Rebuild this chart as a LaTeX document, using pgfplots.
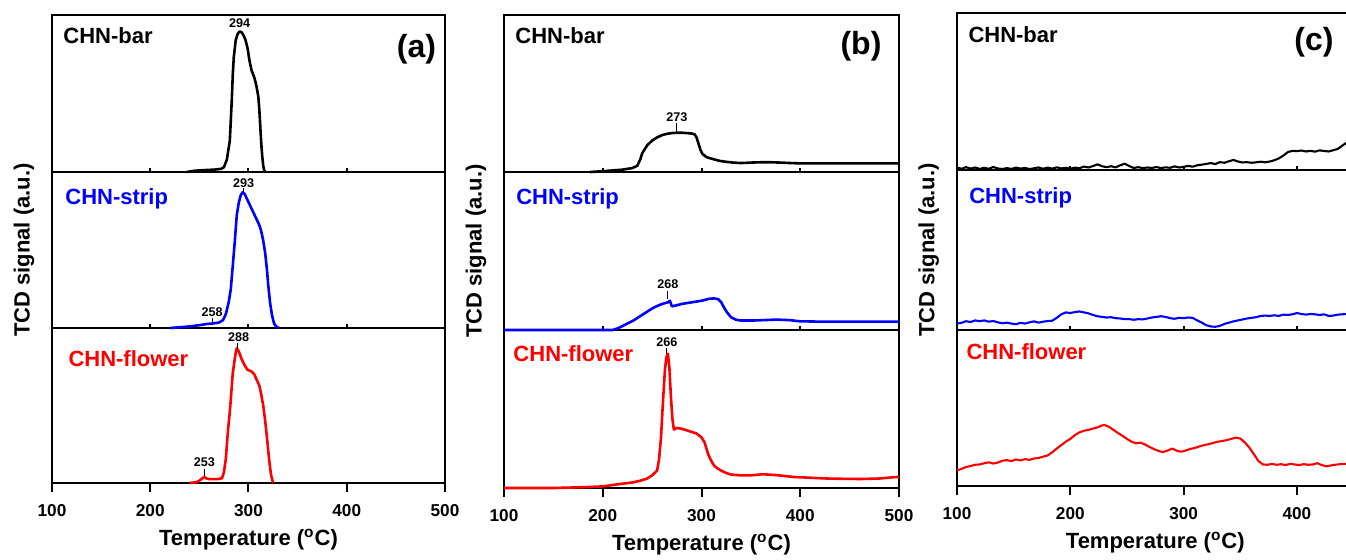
\documentclass[border=0pt]{standalone}
\usepackage{pgfplots}
\pgfplotsset{compat=1.18}
\usepackage{fontspec}
\setmainfont{Liberation Sans}
\definecolor{cblue}{RGB}{0,0,255}
\definecolor{cred}{RGB}{255,0,0}
\newcommand{\serfont}{\bfseries\fontsize{11}{13}\selectfont}
\newcommand{\pkfont}{\bfseries\fontsize{6.3}{7.5}\selectfont}
\pgfplotsset{
  base/.style={scale only axis, anchor=south west, ymin=0, ymax=100, xmin=100,
    ytick=\empty, xtick={100,200,300,400,500}, xtick pos=left, clip=false,
    axis line style={line width=1.15pt}, every tick/.style={black, line width=1pt},
    /pgf/number format/assume math mode=true,
    tick label style={font=\bfseries\fontsize{8.6}{10}\selectfont},
    every axis plot/.append style={line width=1.3pt, line join=round}},
  upper/.style={xticklabels={}, tick align=inside, major tick length=2pt},
  lower/.style={tick align=outside, major tick length=4.5pt,
    xlabel={Temperature (\textsuperscript{o}C)},
    xlabel style={font=\bfseries\fontsize{11}{13}\selectfont, at={(axis description cs:0.5,0)}, anchor=center, yshift=-28.5pt},
    xticklabel style={anchor=center, yshift=-9.25pt}},
  ylab/.style={ylabel={TCD signal (a.u.)},
    ylabel style={font=\bfseries\fontsize{11}{13}\selectfont, at={(axis description cs:-0.071,0.5)}, anchor=center}},
}
\begin{document}
\begin{tikzpicture}
\path[use as bounding box] (0,0) rectangle (673pt,279.5pt);

% ================= Panel (a) =================
\begin{axis}[base, lower, at={(26pt,38pt)}, width=196.5pt, height=77.5pt, xmax=500]
\addplot[cred] coordinates {(240,0) (247,0.5) (250,1.5) (253,3) (255,4) (257,3) (260,2.5) (268,2.5) (273,3) (275,7) (277,16) (279,33) (281,46) (282,54) (284,71) (286,80) (287,84) (288,87) (290,85) (293,80) (296,76) (299,73) (303,72) (306,70) (308,67) (311,63) (313,57) (315,50) (317,40) (319,28) (321,15) (323,5) (325,0)};
\node[anchor=base west, inner sep=0pt, text=cred, font=\serfont] at (rel axis cs:0.041,0.752) {CHN-flower};
\node[font=\pkfont] at (axis cs:290,94) {288};
\draw[line width=0.5pt] (axis cs:289,86.5) -- (axis cs:289,90.5);
\node[font=\pkfont] at (axis cs:255,13.5) {253};
\draw[line width=0.5pt] (axis cs:255,4.5) -- (axis cs:255,9);
\end{axis}
\begin{axis}[base, upper, ylab, at={(26pt,115.5pt)}, width=196.5pt, height=78pt, xmax=500]
\addplot[cblue] coordinates {(220,0) (230,0.5) (240,1) (250,1.8) (258,2.6) (265,3) (270,3.5) (274,5) (277,9) (280,17) (282,25) (284,40) (286,55) (288,72) (290,80) (292,85) (294,87) (296,86) (299,82) (302,78) (305,74) (308,70) (311,66) (313,62) (315,56) (317,48) (319,36) (320,28) (322,16) (324,8) (326,3) (328,1) (331,0)};
\node[anchor=base west, inner sep=0pt, text=cblue, font=\serfont] at (rel axis cs:0.033,0.792) {CHN-strip};
\node[font=\pkfont] at (axis cs:295,93) {293};
\draw[line width=0.5pt] (axis cs:295,87.5) -- (axis cs:295,90);
\node[font=\pkfont] at (axis cs:263,10) {258};
\draw[line width=0.5pt] (axis cs:263,3) -- (axis cs:263,6.5);
\end{axis}
\begin{axis}[base, upper, at={(26pt,193.5pt)}, width=196.5pt, height=78.5pt, xmax=500]
\addplot[black] coordinates {(237,0) (245,0.8) (255,1.2) (265,1.5) (272,2) (275,3) (278,8) (281,20) (283,46) (284,62) (285,73) (287,84) (289,88) (291,89.5) (293,89) (295,87) (297,84) (299,79) (301,71) (303,65) (306,60) (308,55) (310,48) (311,40) (312,29) (313,18) (314,10) (315,4) (316,1) (317,0)};
\node[anchor=base west, inner sep=0pt, font=\serfont] at (rel axis cs:0.028,0.818) {CHN-bar};
\node[font=\pkfont] at (axis cs:291,95) {294};
\node[font=\bfseries\fontsize{16}{18}\selectfont] at (axis cs:471,78) {(a)};
\end{axis}

% ================= Panel (b) =================
\begin{axis}[base, lower, at={(252pt,35.5pt)}, width=197.5pt, height=79pt, xmax=500]
\addplot[cred] coordinates {(100,0) (150,0) (180,0.5) (200,1) (217,2.5) (230,3.5) (238,4.6) (245,6) (250,8) (255,11) (257,18) (259,32) (261,55) (263,75) (264.5,83) (266,85) (267.5,76) (269,58) (270.5,44) (272,37) (275,38) (280,37.5) (285,36.5) (290,35.5) (295,34.5) (300,32) (303,29) (305,25) (307,21) (310,17) (313,14) (316,12.5) (320,11) (325,9.5) (330,8.5) (340,8) (350,8) (362,8.7) (375,8.2) (393,7) (410,6.5) (427,6) (445,5.8) (461,5.7) (480,6) (494,6.8) (500,7)};
\node[anchor=base west, inner sep=0pt, text=cred, font=\serfont] at (rel axis cs:0.023,0.80) {CHN-flower};
\node[font=\pkfont] at (axis cs:265,92) {266};
\draw[line width=0.5pt] (axis cs:265,85) -- (axis cs:265,88.6);
\end{axis}
\begin{axis}[base, upper, ylab, at={(252pt,114.5pt)}, width=197.5pt, height=79pt, xmax=500]
\addplot[cblue] coordinates {(100,0) (150,0) (200,0) (210,0) (215,1) (220,2.5) (231,6) (241,10) (251,14) (258,16) (263,17) (266,17.5) (268,18.5) (270,15) (274,15.5) (280,16.5) (290,17.5) (300,18.5) (308,19.8) (313,20) (317,19.5) (320,17.5) (323,14) (326,11) (330,8) (335,6.5) (340,6) (352,6) (365,6.3) (376,6.6) (390,6.2) (400,5.5) (420,5.3) (450,5.3) (480,5.3) (500,5.3)};
\node[anchor=base west, inner sep=0pt, text=cblue, font=\serfont] at (rel axis cs:0.030,0.792) {CHN-strip};
\node[font=\pkfont] at (axis cs:266,29) {268};
\draw[line width=0.5pt] (axis cs:266,19.5) -- (axis cs:266,25);
\end{axis}
\begin{axis}[base, upper, at={(252pt,193.5pt)}, width=197.5pt, height=78.5pt, xmax=500]
\addplot[black] coordinates {(187,0) (200,0.5) (210,1) (220,1.5) (230,2.5) (235,4) (238,8) (240,12) (245,17) (250,20) (255,22) (260,23.5) (265,24.3) (270,24.8) (275,25) (280,25) (285,24.8) (290,24.5) (293,24) (295,22) (297,18) (299,14) (301,11.5) (305,9.5) (310,8.5) (319,7) (325,6.5) (332,6) (340,5.7) (350,6) (360,6.2) (370,6.2) (380,6) (390,5.7) (400,5.5) (420,5.5) (450,5.5) (480,5.5) (500,5.5)};
\node[anchor=base west, inner sep=0pt, font=\serfont] at (rel axis cs:0.028,0.818) {CHN-bar};
\node[font=\pkfont] at (axis cs:275,35) {273};
\draw[line width=0.5pt] (axis cs:275,25.5) -- (axis cs:275,31.5);
\node[font=\bfseries\fontsize{16}{18}\selectfont] at (axis cs:461.5,80) {(b)};
\end{axis}

% ================= Panel (c) =================
\begin{axis}[base, lower, at={(478.5pt,36.5pt)}, width=198.3pt, height=78pt, xmax=450, xtick={100,200,300,400},
  every axis plot/.append style={line width=1.05pt}]
\addplot[cred] coordinates {(100,10) (104,11) (108,12.2) (112,12.8) (116,13.6) (120,13.8) (124,14.6) (128,15.2) (132,14.4) (136,15.0) (140,16.2) (144,16.6) (148,16.0) (152,17.0) (156,16.4) (160,17.2) (164,16.8) (168,17.6) (172,18.0) (176,18.8) (180,19.6) (184,21.6) (188,24.0) (192,26.2) (196,28.4) (200,30.2) (204,32.6) (208,34.4) (212,35.4) (216,36.0) (220,36.8) (224,37.6) (228,38.8) (230,39.2) (234,38.0) (238,36.0) (242,34.0) (246,32.2) (250,30.2) (254,28.4) (258,27.4) (262,27.8) (266,26.6) (270,25.0) (274,23.6) (278,22.4) (282,21.8) (286,22.8) (290,24.0) (294,22.6) (298,22.0) (302,22.8) (306,23.8) (310,24.4) (314,25.4) (318,26.2) (322,26.8) (326,27.6) (330,28.4) (334,28.8) (338,29.4) (342,30.2) (346,31.0) (350,30.4) (354,28.0) (358,24.6) (362,20.4) (366,16.0) (370,13.8) (374,13.6) (378,14.2) (382,13.6) (386,14.0) (390,13.4) (394,14.2) (398,13.8) (402,13.4) (406,14.0) (410,13.6) (414,13.8) (418,14.6) (422,13.4) (426,12.6) (430,13.2) (434,13.6) (438,14.0) (442,14.2) (448,14)};
\node[anchor=base west, inner sep=0pt, text=cred, font=\serfont] at (rel axis cs:0.023,0.812) {CHN-flower};
\end{axis}
\begin{axis}[base, upper, ylab, at={(478.5pt,114.5pt)}, width=198.3pt, height=80pt, xmax=450, xtick={100,200,300,400},
  every axis plot/.append style={line width=1.05pt}]
\addplot[cblue] coordinates {(100,4) (104,4.5) (108,5.5) (112,5) (116,6) (120,5.5) (124,6) (128,5.2) (132,5.6) (136,4.8) (140,4.2) (144,4.6) (148,4) (152,3.6) (156,4.5) (160,4.0) (164,4.8) (168,5.4) (172,4.6) (176,5.2) (180,5.6) (184,5.8) (188,7.6) (192,9.8) (196,11) (200,10.6) (204,11.2) (208,11.6) (212,11.0) (216,10.4) (220,9.4) (224,8.6) (228,8.2) (232,7.8) (236,8.0) (240,7.4) (244,7.2) (248,6.8) (252,6.8) (256,6.4) (260,6.8) (264,6.6) (268,7.2) (272,7.8) (276,8.2) (280,8.6) (284,8.2) (288,7.4) (292,7.0) (296,7.6) (300,7.4) (304,7.8) (308,7.6) (312,6.0) (316,4.6) (320,3.0) (324,2.2) (328,2.0) (332,2.6) (336,3.8) (340,4.6) (344,5.4) (348,6.0) (352,6.6) (356,7.2) (360,7.6) (364,8.0) (368,8.8) (372,9.0) (376,8.8) (380,9.2) (384,8.8) (388,9.6) (392,9.4) (396,9.8) (400,10.6) (404,10.0) (408,9.6) (412,10.0) (416,9.8) (420,9.4) (424,9.8) (428,8.8) (432,9.0) (436,9.6) (440,9.8) (444,10) (448,10)};
\node[anchor=base west, inner sep=0pt, text=cblue, font=\serfont] at (rel axis cs:0.030,0.792) {CHN-strip};
\end{axis}
\begin{axis}[base, upper, at={(478.5pt,194.5pt)}, width=198.3pt, height=78.5pt, xmax=450, xtick={100,200,300,400},
  every axis plot/.append style={line width=1.05pt}]
\addplot[black] coordinates {(100,1.5) (104,0.8) (108,1.8) (112,0.9) (116,1.6) (120,0.7) (124,1.4) (128,0.8) (132,1.9) (136,1.0) (140,0.6) (144,1.2) (148,0.7) (152,1.5) (156,0.9) (160,1.3) (164,0.6) (168,1.1) (172,1.6) (176,0.8) (180,1.5) (184,0.9) (188,1.7) (192,1.0) (196,1.4) (200,0.8) (204,1.5) (208,1.1) (212,2.2) (216,1.6) (220,2.5) (224,3.6) (228,2.4) (232,1.8) (236,2.4) (240,1.7) (244,3.0) (248,4.0) (252,2.5) (256,1.3) (260,1.8) (264,1.2) (268,1.6) (272,1.3) (276,1.9) (280,1.2) (284,1.7) (288,1.4) (292,2.3) (296,1.6) (300,2.0) (304,2.6) (308,2.1) (312,3.0) (316,3.4) (320,3.9) (324,4.4) (328,3.8) (332,5.0) (336,4.6) (340,5.6) (344,6.4) (348,5.4) (352,4.8) (356,5.0) (360,4.6) (364,4.9) (368,5.3) (372,4.9) (376,5.4) (380,6.2) (384,7.4) (388,9.2) (392,11.4) (396,12.2) (400,12.0) (404,12.4) (408,11.8) (412,12.2) (416,11.7) (420,12.5) (424,12.1) (428,11.8) (432,12.6) (436,13.4) (440,15.5) (444,17.5) (448,18)};
\node[anchor=base west, inner sep=0pt, font=\serfont] at (rel axis cs:0.028,0.812) {CHN-bar};
\node[font=\bfseries\fontsize{16}{18}\selectfont] at (axis cs:415,81.5) {(c)};
\end{axis}
\end{tikzpicture}
\end{document}
